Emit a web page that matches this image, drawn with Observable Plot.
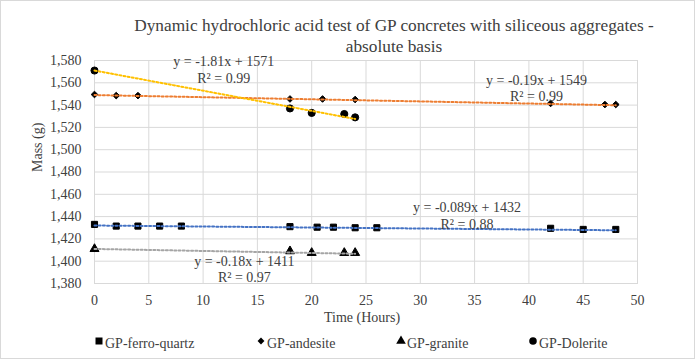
<!DOCTYPE html>
<html>
<head>
<meta charset="utf-8">
<script src="https://cdn.jsdelivr.net/npm/d3@7"></script>
<script src="https://cdn.jsdelivr.net/npm/@observablehq/plot@0.6"></script>
<style>
  html, body { margin: 0; padding: 0; background: #fff; }
  #chart svg { display: block; }
</style>
</head>
<body>
<div id="chart"></div>
<script>
// ---- data ----
const seriesNames = ["GP-ferro-quartz", "GP-andesite", "GP-granite", "GP-Dolerite"];
const seriesSymbols = ["square", "diamond2", "triangle", "circle"];
const trendColors = ["#4472C4", "#ED7D31", "#A5A5A5", "#FFC000"];

const hoursFQ = [0, 2, 4, 6, 8, 18, 20.5, 22, 24, 26, 42, 45, 48];
const massFQ  = [1433, 1431.5, 1431.5, 1431.5, 1431.5, 1431, 1430.5, 1430.5, 1430, 1430, 1429.5, 1428.5, 1428.5];

const hoursAN = [0, 2, 4, 18, 21, 24, 42, 47, 48];
const massAN  = [1549.5, 1548.5, 1548.5, 1545.5, 1545.5, 1545, 1541.5, 1540.5, 1540.5];

const hoursGR = [0, 18, 20, 23, 24];
const massGR  = [1411, 1409, 1407.5, 1407.5, 1407.5];

const hoursDO = [0, 18, 20, 23, 24];
const massDO  = [1571, 1537, 1533, 1532, 1529];

const trendSlopes     = [-0.089, -0.19, -0.18, -1.81];
const trendIntercepts = [1432, 1549, 1411, 1571];
const trendLabels = [
  "y = -0.089x + 1432\nR² = 0.88",
  "y = -0.19x + 1549\nR² = 0.99",
  "y = -0.18x + 1411\nR² = 0.97",
  "y = -1.81x + 1571\nR² = 0.99"
];
// annotation anchors (data units)
const labelHours = [34.3, 40.7, 13.8, 11.9];
const labelMass  = [1441.4, 1555.7, 1393.4, 1572.4];

const xTicks = d3.range(0, 51, 5);
const yTicks = d3.range(1380, 1581, 20);

const titleText = "Dynamic hydrochloric acid test of GP concretes with siliceous aggregates -\nabsolute basis";
const xLabel = "Time (Hours)";
const yLabel = "Mass (g)";

// ---- build tables ----
const hoursAll = [hoursFQ, hoursAN, hoursGR, hoursDO];
const massAll = [massFQ, massAN, massGR, massDO];
const points = [];
hoursAll.forEach((hs, i) => hs.forEach((h, j) => points.push({series: i, hours: h, mass: massAll[i][j]})));
const trends = [];
hoursAll.forEach((hs, i) => {
  const x0 = d3.min(hs), x1 = d3.max(hs);
  [x0, x1].forEach(x => trends.push({series: i, hours: x, mass: trendSlopes[i] * x + trendIntercepts[i]}));
});
const labels = trendLabels.map((t, i) => ({text: t, hours: labelHours[i], mass: labelMass[i]}));

const font = "'Liberation Serif', 'Times New Roman', serif";
const textColor = "#404040";
const markerR = [4.5, 3.4, 4.2, 4.8];

const plot = Plot.plot({
  width: 697,
  height: 360,
  marginLeft: 94,
  marginRight: 60,
  marginTop: 60,
  marginBottom: 77,
  style: {fontFamily: font, fontSize: "14px", color: textColor, background: "#fff"},
  x: {domain: [0, 50], ticks: xTicks, label: null},
  y: {domain: [1380, 1580], ticks: yTicks, label: null},
  marks: [
    Plot.gridX(xTicks, {stroke: "#d9d9d9", strokeOpacity: 1, strokeWidth: 1}),
    Plot.gridY(yTicks, {stroke: "#d9d9d9", strokeOpacity: 1, strokeWidth: 1}),
    Plot.frame({stroke: "#d9d9d9"}),
    Plot.axisX(xTicks, {tickSize: 0, tickPadding: 12, fontSize: 14, label: null, fill: textColor}),
    Plot.axisY(yTicks, {tickSize: 0, tickPadding: 13, fontSize: 14, label: null, fill: textColor, tickFormat: d3.format(",")}),
    Plot.dot(points, {
      x: "hours", y: "mass",
      symbol: d => seriesSymbols[d.series],
      r: d => markerR[d.series],
      fill: "#000", stroke: "#000", strokeWidth: 1
    }),
    Plot.line(trends, {
      x: "hours", y: "mass", z: "series",
      stroke: d => trendColors[d.series],
      strokeWidth: 2, strokeDasharray: "2 2.2"
    }),
    Plot.text(labels, {
      x: "hours", y: "mass", text: "text",
      fontSize: 14, fill: textColor, lineHeight: 1.2, lineAnchor: "middle", textAnchor: "middle"
    }),
    Plot.text([titleText], {
      frameAnchor: "top", dx: 28, dy: -26, lineAnchor: "middle", lineHeight: 1.23,
      fontSize: 17.3, fill: textColor
    }),
    Plot.text([xLabel], {
      frameAnchor: "bottom", dx: -4, dy: 34, lineAnchor: "middle", fontSize: 14, fill: textColor
    }),
    Plot.text([yLabel], {
      frameAnchor: "left", dx: -57, rotate: -90, lineAnchor: "middle", fontSize: 14, fill: textColor
    })
  ]
});

document.getElementById("chart").appendChild(plot);

// outer border and legend
const svg = d3.select(plot);
svg.attr("font-family", font);
svg.insert("rect", ":first-child")
  .attr("x", 0.5).attr("y", 0.5).attr("width", 694).attr("height", 358)
  .attr("fill", "#fff").attr("stroke", "#d9d9d9");

const legendX = [99, 261, 401, 533];
const legendY = 343;
const symbolMap = {square: d3.symbolSquare, diamond2: d3.symbolDiamond2, triangle: d3.symbolTriangle, circle: d3.symbolCircle};
const legendSize = [49, 30, 40, 45];
const lg = svg.append("g")
  .attr("font-size", 14).attr("fill", textColor)
  .attr("text-anchor", "start");
seriesNames.forEach((name, i) => {
  lg.append("path")
    .attr("transform", `translate(${legendX[i]},${legendY - 2})`)
    .attr("d", d3.symbol(symbolMap[seriesSymbols[i]], legendSize[i])())
    .attr("fill", "#000");
  lg.append("text")
    .attr("x", legendX[i] + 6).attr("y", legendY).attr("dy", "0.35em")
    .style("text-anchor", "start")
    .text(name);
});
svg.selectAll("text").attr("font-family", font).style("font-family", font);
</script>
</body>
</html>
